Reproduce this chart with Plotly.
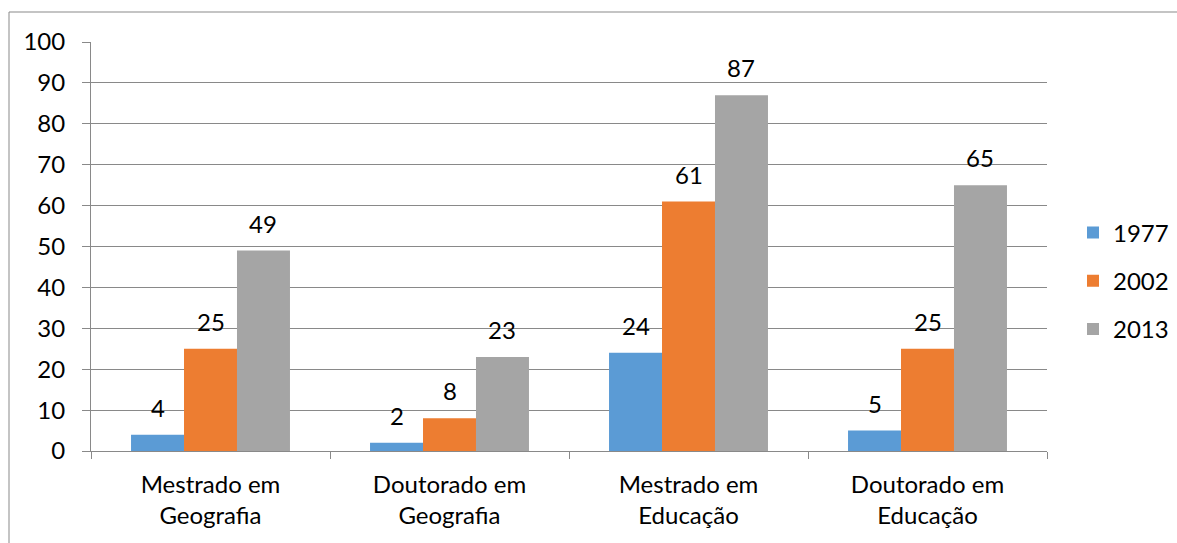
import plotly.graph_objects as go

categories = ["Mestrado em<br>Geografia", "Doutorado em<br>Geografia", "Mestrado em<br>Educação", "Doutorado em<br>Educação"]
series_names = ["1977", "2002", "2013"]
values_1977 = [4, 2, 24, 5]
values_2002 = [25, 8, 61, 25]
values_2013 = [49, 23, 87, 65]
y_ticks = [0, 10, 20, 30, 40, 50, 60, 70, 80, 90, 100]

colors = ["#5B9BD5", "#ED7D31", "#A5A5A5"]
all_values = [values_1977, values_2002, values_2013]

W, H = 1177, 543
ML, MR, MT, MB = 91, 130, 42, 92
plot_w = W - ML - MR
plot_h = H - MT - MB
BARGAP = 0.335
FONT = "Lato, Carlito, Calibri, sans-serif"
FS = 24

fig = go.Figure()
for name, vals, col in zip(series_names, all_values, colors):
    fig.add_trace(go.Bar(
        x=categories, y=vals, name=name, marker=dict(color=col, line=dict(width=0)),
        legendgroup=name,
    ))

# data labels above bars
cat_w = plot_w / len(categories)
bar_w = cat_w * (1 - BARGAP) / len(series_names)
for k, vals in enumerate(all_values):
    for c, v in zip(categories, vals):
        fig.add_annotation(
            x=c, y=v, text=str(v), showarrow=False, yanchor="bottom",
            xshift=(k - 1) * bar_w, yshift=11,
            font=dict(family=FONT, size=FS, color="#000000"),
        )

# outer chart border (left and top edges visible)
bx = (9 - ML) / plot_w
by_top = (H - MB - 12) / plot_h
fig.add_shape(type="line", xref="paper", yref="paper", x0=bx, x1=bx, y0=-0.3, y1=by_top,
              line=dict(color="#898989", width=1))
fig.add_shape(type="line", xref="paper", yref="paper", x0=bx, x1=1.2, y0=by_top, y1=by_top,
              line=dict(color="#898989", width=1))

fig.update_layout(
    width=W, height=H,
    margin=dict(l=ML, r=MR, t=MT, b=MB, autoexpand=False),
    paper_bgcolor="white", plot_bgcolor="white",
    barmode="group", bargap=BARGAP, bargroupgap=0,
    font=dict(family=FONT, size=FS, color="#000000"),
    legend=dict(
        x=(1073 - ML) / plot_w, xanchor="left", y=(H - MB - 281) / plot_h, yanchor="middle",
        font=dict(family=FONT, size=FS), traceorder="grouped", tracegroupgap=14,
        itemclick=False,
    ),
    showlegend=True,
)
fig.update_yaxes(
    range=[0, 100], tickvals=y_ticks, showgrid=True, gridcolor="#898989", gridwidth=1,
    showline=True, linecolor="#898989", linewidth=1, ticks="outside", ticklen=8,
    tickcolor="#898989", zeroline=False, ticklabelstandoff=12,
    tickfont=dict(family=FONT, size=FS),
)
fig.update_xaxes(
    showline=True, linecolor="#898989", linewidth=1, ticks="outside", ticklen=7,
    tickcolor="#898989", tickson="boundaries", showgrid=False,
    tickfont=dict(family=FONT, size=FS), ticklabelstandoff=12,
)

fig.write_html("out.html")
